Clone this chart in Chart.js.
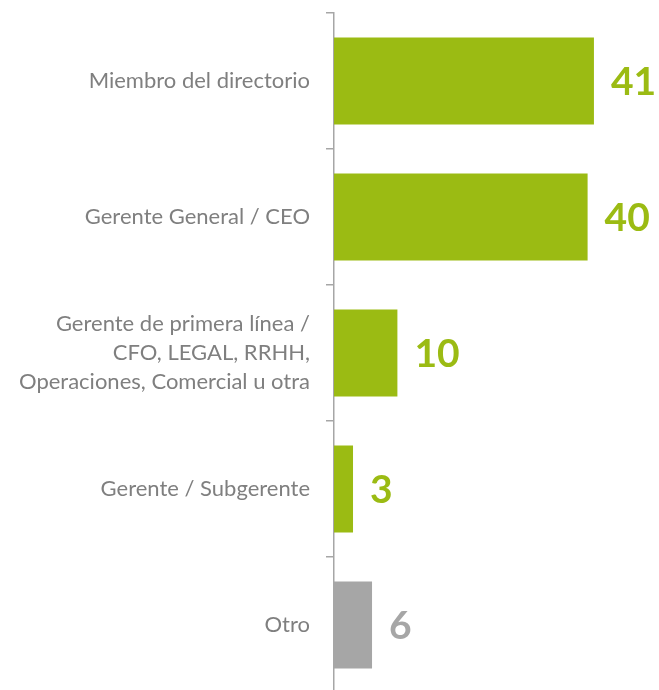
<!DOCTYPE html>
<html>
<head>
<meta charset="utf-8">
<script src="https://cdn.jsdelivr.net/npm/chart.js@4/dist/chart.umd.min.js"></script>
<style>
  html, body { margin: 0; padding: 0; background: #fff; overflow: hidden; }
  #wrap { position: relative; width: 659px; height: 700px; }
</style>
</head>
<body>
<div id="wrap"><canvas id="c"></canvas></div>
<script>
"use strict";
var categories = [
  "Miembro del directorio",
  "Gerente General / CEO",
  ["Gerente de primera línea /", "CFO, LEGAL, RRHH,", "Operaciones, Comercial u otra"],
  "Gerente / Subgerente",
  "Otro"
];
var values = [41, 40, 10, 3, 6];
var barColors = ["#9bbb13", "#9bbb13", "#9bbb13", "#9bbb13", "#a6a6a6"];

var GRAY_TEXT = "#7f7f7f";
var AXIS = "#a6a6a6";

var valueLabels = {
  id: "valueLabels",
  afterDatasetsDraw: function (chart) {
    var ctx = chart.ctx;
    var meta = chart.getDatasetMeta(0);
    ctx.save();
    ctx.font = "bold 39px Lato, 'Open Sans', sans-serif";
    ctx.textAlign = "left";
    ctx.textBaseline = "middle";
    meta.data.forEach(function (bar, i) {
      ctx.fillStyle = barColors[i];
      ctx.fillText(String(values[i]), bar.x + 17, bar.y + 1);
    });
    ctx.restore();
  }
};

new Chart(document.getElementById("c"), {
  type: "bar",
  data: {
    labels: categories,
    datasets: [{
      data: values,
      backgroundColor: barColors,
      borderWidth: 0,
      barPercentage: 0.64,
      categoryPercentage: 1
    }]
  },
  options: {
    indexAxis: "y",
    responsive: true,
    maintainAspectRatio: false,
    animation: false,
    layout: { padding: { top: 13, right: 8, bottom: 7, left: 0 } },
    plugins: { legend: { display: false }, tooltip: { enabled: false } },
    scales: {
      x: { display: false, min: 0, max: 50 },
      y: {
        afterFit: function (scale) {
          scale.width = 334;
          scale.paddingTop = 0;
          scale.paddingBottom = 0;
        },
        border: { display: true, color: AXIS, width: 1.5 },
        grid: { offset: true, drawOnChartArea: false, drawTicks: true, tickLength: 8, color: AXIS, lineWidth: 1.5 },
        ticks: {
          color: GRAY_TEXT,
          padding: 16,
          font: { family: "Lato, 'Open Sans', sans-serif", size: 22, lineHeight: 1.32 }
        }
      }
    }
  },
  plugins: [valueLabels]
});
</script>
</body>
</html>
